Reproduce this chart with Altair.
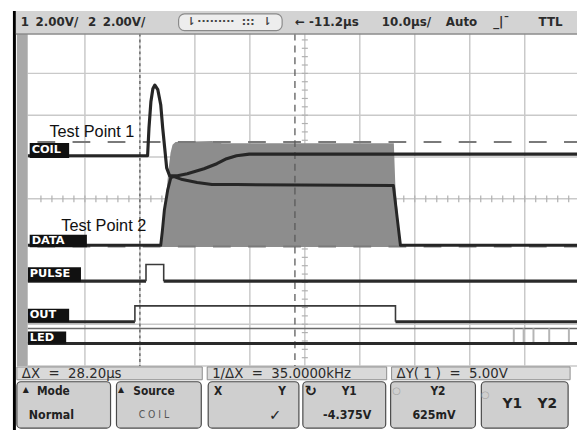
import altair as alt
import pandas as pd
import numpy as np

# ================= what the scope shows =================
V_PER_DIV = [2.00, 2.00]               # channel 1 / channel 2 vertical scale
US_PER_DIV = 10.0                      # horizontal scale
DELAY_US = -11.2                       # delay
T_LEFT = DELAY_US - 5 * US_PER_DIV     # time at the left edge of the graticule

# Channel 1 (COIL): time (µs) and level (divisions from the screen centre)
coil_t = [-61.6, -39.8, -39.55, -39.2, -38.84, -38.48, -37.94, -37.41, -37.05,
          -36.69, -36.33, -35.8, -34.37, -32.58, -29.54, -27.21, -25.42,
          -23.63, -21.31, 40.0]
coil_v = [1.03, 1.03, 1.69, 2.32, 2.63, 2.72, 2.61, 2.25, 1.69,
          1.22, 0.74, 0.55, 0.55, 0.60, 0.72, 0.84, 0.96,
          1.03, 1.07, 1.07]

# Channel 2 (DATA): envelope of the burst and its dense centre trace
env_t = [-37.41, -37.05, -36.69, -36.33, -35.98, -35.62, -35.26, -34.72,
         -28.1, -26.32, 4.99, 5.26, 6.19]
env_top = [-1.14, -0.79, -0.32, 0.20, 0.72, 1.10, 1.29, 1.36,
           1.38, 1.33, 1.33, 0.33, -1.14]
ENV_BOTTOM = -1.15
data_t = [-61.6, -37.41, -37.1, -36.75, -36.16, -35.56, -35.0, -33.47,
          -30.79, -28.1, -23.63, 4.9, 6.19, 40.0]
data_v = [-1.11, -1.11, -0.75, -0.27, 0.20, 0.51, 0.53, 0.46,
          0.39, 0.34, 0.34, 0.32, -1.11, -1.11]

# Digital channels: edge times (µs), low / high levels (div)
pulse_edges = [-40.09, -36.87]
PULSE_LO, PULSE_HI = -1.97, -1.57
out_edges = [-42.11, 5.29]
OUT_LO, OUT_HI = -2.94, -2.56
LED_LO, LED_HI = -3.46, -3.10
led_glitch_t = [26.81, 28.6, 30.39, 33.25, 36.83]

# Cursors
X1_T = -41.2
DX_US = 28.20
X2_T = X1_T + DX_US
Y1_D, Y2_D = 1.36, -1.14

# Graticule (divisions / µs)
grid_t = [-51.2, -41.2, -31.2, -21.2, -11.2, -1.2, 8.8, 18.8, 28.8]
grid_d = [3, 2, 1, 0, -3, -4]
GRID_TOP, GRID_BOT = 3.95, -4.0
T_END = 40.0

# Texts
NB = "\u00a0"
channel_names = ["COIL", "DATA", "PULSE", "OUT", "LED"]
header_words = ["1", f"{V_PER_DIV[0]:.2f}V/", "2", f"{V_PER_DIV[1]:.2f}V/",
                f"←{NB}{DELAY_US:.1f}µs", f"{US_PER_DIV:.1f}µs/", "Auto", "_|¯", "TTL"]
info_words = [f"ΔX{NB*2}={NB*2}28.20µs", f"1/ΔX{NB*2}={NB*2}35.0000kHz",
              f"ΔY({NB}1{NB}){NB*2}={NB*2}5.00V"]
key_top = ["Mode", "Source", "X", "Y", "Y1", "Y2"]
key_bottom = ["Normal", "-4.375V", "625mV"]

# ================= screen layout (reference picture, px) =================
W, H = 577, 425
ORIGIN_X, ORIGIN_Y = 8, 8
PITCH_X, PITCH_Y = 55.75, 42.4
GRID_X0, GRID_YC = 30.25, 198.5


def tx(px):
    return T_LEFT + (px - GRID_X0) / PITCH_X * US_PER_DIV


def dy(py):
    return (GRID_YC - py) / PITCH_Y


T_START = tx(28)
xs = alt.Scale(domain=[tx(ORIGIN_X), tx(ORIGIN_X + W)], nice=False, zero=False)
ys = alt.Scale(domain=[dy(ORIGIN_Y + H), dy(ORIGIN_Y)], nice=False, zero=False)


def X(f):
    return alt.X(f + ':Q', scale=xs, axis=None)


def Y(f):
    return alt.Y(f + ':Q', scale=ys, axis=None)


def rect_df(rows):
    return pd.DataFrame([{'t': tx(a), 't2': tx(c), 'd': dy(b), 'd2': dy(e)}
                         for a, b, c, e in rows])


def rects(rows, **kw):
    return alt.Chart(rect_df(rows)).mark_rect(**kw).encode(
        x=X('t'), x2='t2', y=Y('d'), y2='d2')


def texts(rows, **kw):
    df = pd.DataFrame([{'t': tx(px), 'd': dy(py), 'txt': s} for s, px, py in rows])
    return alt.Chart(df).mark_text(**kw).encode(x=X('t'), y=Y('d'), text='txt:N')


layers = []
GRID_C = '#c9c9c9'

# graticule
layers.append(alt.Chart(pd.DataFrame({'t': grid_t, 'd': GRID_TOP, 'd2': GRID_BOT}))
              .mark_rule(color=GRID_C, strokeWidth=1.5)
              .encode(x=X('t'), y=Y('d'), y2='d2'))
layers.append(alt.Chart(pd.DataFrame({'d': grid_d, 't': T_START, 't2': T_END}))
              .mark_rule(color=GRID_C, strokeWidth=1.5, clip=True)
              .encode(y=Y('d'), x=X('t'), x2='t2'))
minor_t = np.arange(T_LEFT + 2, T_END, 2.0)
layers.append(alt.Chart(pd.DataFrame({'t': minor_t, 'd': 0.08, 'd2': -0.08}))
              .mark_rule(color='#b0b0b0', strokeWidth=1.2, clip=True)
              .encode(x=X('t'), y=Y('d'), y2='d2'))
minor_d = np.arange(-3.8, 3.81, 0.2)
layers.append(alt.Chart(pd.DataFrame({'d': minor_d, 't': DELAY_US - 0.55, 't2': DELAY_US + 0.55}))
              .mark_rule(color='#b0b0b0', strokeWidth=1.2)
              .encode(y=Y('d'), x=X('t'), x2='t2'))

# DATA burst envelope
layers.append(alt.Chart(pd.DataFrame({'t': env_t, 'top': env_top, 'bot': ENV_BOTTOM}))
              .mark_area(color='#8d8d8d', opacity=1)
              .encode(x=X('t'), y=Y('top'), y2='bot'))

# cursors
layers.append(alt.Chart(pd.DataFrame({'d': [Y1_D, Y2_D], 't': T_LEFT, 't2': T_END}))
              .mark_rule(color='#7a7a7a', strokeWidth=2, strokeDash=[18, 17.6],
                         strokeDashOffset=28, clip=True)
              .encode(y=Y('d'), x=X('t'), x2='t2'))
layers.append(alt.Chart(pd.DataFrame({'t': [X1_T], 'd': GRID_TOP, 'd2': GRID_BOT}))
              .mark_rule(color='#5a5a5a', strokeWidth=1.3, strokeDash=[3, 3])
              .encode(x=X('t'), y=Y('d'), y2='d2'))
layers.append(alt.Chart(pd.DataFrame({'t': [X2_T], 'd': GRID_TOP, 'd2': GRID_BOT}))
              .mark_rule(color='#5a5a5a', strokeWidth=1.3, strokeDash=[7, 5])
              .encode(x=X('t'), y=Y('d'), y2='d2'))

# analog traces
TRACE = '#262626'
layers.append(alt.Chart(pd.DataFrame({'t': data_t, 'v': data_v, 'i': range(len(data_t))}))
              .mark_line(color=TRACE, strokeWidth=3, clip=True, strokeJoin='round')
              .encode(x=X('t'), y=Y('v'), order='i:Q'))
layers.append(alt.Chart(pd.DataFrame({'t': coil_t, 'v': coil_v, 'i': range(len(coil_t))}))
              .mark_line(color=TRACE, strokeWidth=3.2, clip=True, strokeJoin='round')
              .encode(x=X('t'), y=Y('v'), order='i:Q'))


# digital traces
def digital(edges, lo, hi):
    e0, e1 = edges
    lows = pd.DataFrame({'t': [T_START, e1], 't2': [e0, T_END], 'd': lo})
    path = pd.DataFrame({'t': [e0, e0, e1, e1], 'd': [lo, hi, hi, lo], 'i': [0, 1, 2, 3]})
    return [alt.Chart(lows).mark_rule(color='#2a2a2a', strokeWidth=3.2, clip=True)
            .encode(x=X('t'), x2='t2', y=Y('d')),
            alt.Chart(path).mark_line(color='#3a3a3a', strokeWidth=1.6)
            .encode(x=X('t'), y=Y('d'), order='i:Q')]


layers += digital(pulse_edges, PULSE_LO, PULSE_HI)
layers += digital(out_edges, OUT_LO, OUT_HI)
layers.append(alt.Chart(pd.DataFrame({'d': [LED_HI], 't': T_START, 't2': T_END}))
              .mark_rule(color='#6a6a6a', strokeWidth=1.5, clip=True)
              .encode(y=Y('d'), x=X('t'), x2='t2'))
layers.append(alt.Chart(pd.DataFrame({'t': led_glitch_t, 'd': LED_HI, 'd2': LED_LO}))
              .mark_rule(color='#b5b5b5', strokeWidth=2)
              .encode(x=X('t'), y=Y('d'), y2='d2'))
layers.append(alt.Chart(pd.DataFrame({'d': [LED_LO], 't': T_START, 't2': T_END}))
              .mark_rule(color='#2a2a2a', strokeWidth=3.2, clip=True)
              .encode(y=Y('d'), x=X('t'), x2='t2'))

# channel name tags
tag_boxes = [(30, 142, 70, 157), (30, 235, 88, 247.5), (28, 268, 82, 282.5),
             (28, 310, 70, 323.5), (28, 333, 67, 345.5)]
layers.append(rects(tag_boxes, color='#111111'))
layers.append(texts([(n, b[0] + 2, (b[1] + b[3]) / 2) for n, b in zip(channel_names, tag_boxes)],
                    align='left', baseline='middle', color='white', font='DejaVu Sans',
                    fontWeight='bold', fontSize=11.5))

# test point annotations
layers.append(texts([("Test Point 1", 50, 136), ("Test Point 2", 62, 231)],
                    align='left', baseline='alphabetic', color='#111111',
                    font='Liberation Sans', fontSize=16.5))

# frame, left strip, header
layers.append(rects([(17, 31.5, 28, 368)], color='#a9a9a9'))
layers.append(rects([(13, 8, 16, 433)], color='#000000'))
layers.append(rects([(16, 8, 585, 31)], color='#d3d3d3'))
layers.append(alt.Chart(pd.DataFrame({'d': [dy(31.3)], 't': tx(16), 't2': tx(585)}))
              .mark_rule(color='#8a8a8a', strokeWidth=1.6)
              .encode(y=Y('d'), x=X('t'), x2='t2'))
layers.append(rects([(181, 11, 286, 28)], fill='#ededed', stroke='#8a8a8a',
                    strokeWidth=1.2, cornerRadius=6))
hdr_pos = [21, 36, 89, 104, 299, 387, 452, 500, 546]
layers.append(texts([(w, p, 19.5) for w, p in zip(header_words, hdr_pos)],
                    align='left', baseline='middle', color='#2b2b2b', font='DejaVu Sans',
                    fontWeight='bold', fontSize=12))
layers.append(texts([("⇂", 189, 19.5), ("·········", 200, 19.5), (":::", 245, 19.5),
                     ("⇂", 266, 19.5)],
                    align='left', baseline='middle', color='#444444', font='DejaVu Sans',
                    fontWeight='bold', fontSize=11))

# cursor read-out row
info_boxes = [(17, 369, 205, 382), (210, 369, 392, 382), (397, 369, 578, 382)]
layers.append(rects(info_boxes, fill='#d9d9d9', stroke='#8c8c8c', strokeWidth=1))
layers.append(texts([(w, b[0] + 5, 376) for w, b in zip(info_words, info_boxes)],
                    align='left', baseline='middle', color='#2b2b2b', font='DejaVu Sans',
                    fontSize=13.5))

# softkeys
keys = [(17, 384, 112, 431), (118, 384, 204, 431), (211, 384, 303, 431),
        (307, 384, 391, 431), (396, 384, 482, 431), (488, 384, 576, 431)]
layers.append(rects(keys, fill='#cfcfcf', stroke='#4a4a4a', strokeWidth=1.2, cornerRadius=4))
top_pos = [54, 156, 221, 286, 354, 444]
layers.append(texts([(w, p, 393.5) for w, p in zip(key_top, top_pos)],
                    align='center', baseline='middle', color='#222222',
                    font='DejaVu Sans Condensed', fontWeight='bold', fontSize=12))
layers.append(texts([(w, p, 418) for w, p in zip(key_bottom, [52, 352, 440])],
                    align='center', baseline='middle', color='#222222',
                    font='DejaVu Sans Condensed', fontWeight='bold', fontSize=12.5))
layers.append(texts([(f"C{NB}O{NB}I{NB}L", 156, 418)],
                    align='center', baseline='middle', color='#555555',
                    font='DejaVu Sans Condensed', fontSize=10.5))
layers.append(texts([("Y1", 519.5, 406.5), ("Y2", 555, 406.5)],
                    align='center', baseline='middle', color='#222222',
                    font='DejaVu Sans', fontWeight='bold', fontSize=14))
layers.append(texts([("▲", 26, 392), ("▲", 122.5, 392)],
                    align='center', baseline='middle', color='#222222',
                    font='DejaVu Sans', fontSize=8))
layers.append(texts([("↻", 315, 393.5), ("✓", 279, 418)],
                    align='center', baseline='middle', color='#222222',
                    font='DejaVu Sans', fontWeight='bold', fontSize=15))
layers.append(texts([("○", 402, 393.5), ("○", 492, 398)],
                    align='center', baseline='middle', color='#a5a5a5',
                    font='DejaVu Sans', fontSize=10))

chart = alt.layer(*layers).properties(
    width=W, height=H, padding=0,
    autosize=alt.AutoSizeParams(type='none'),
    background='white',
).configure_view(strokeWidth=0)

chart.save("out.html", embed_options={"renderer": "svg", "actions": False})
